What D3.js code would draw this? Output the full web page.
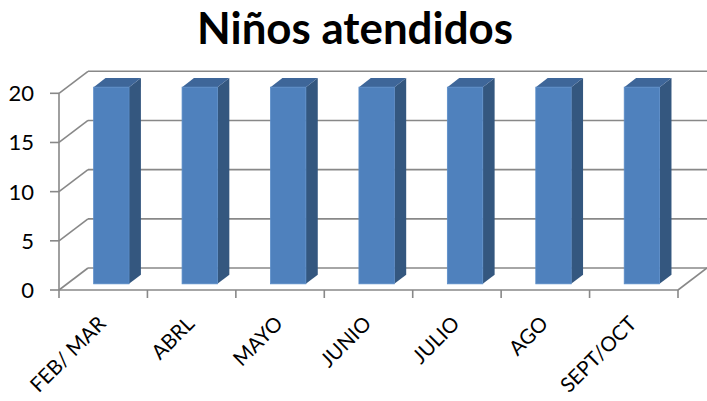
<!DOCTYPE html>
<html>
<head>
<meta charset="utf-8">
<script src="https://cdn.jsdelivr.net/npm/d3@7/dist/d3.min.js"></script>
<style>
  html, body { margin: 0; padding: 0; background: #ffffff; }
  svg { display: block; }
</style>
</head>
<body>
<script>
// ---- data ----
const categories = ["FEB/ MAR", "ABRL", "MAYO", "JUNIO", "JULIO", "AGO", "SEPT/OCT"];
const values = [20, 20, 20, 20, 20, 20, 20];
const yTicks = [0, 5, 10, 15, 20];
const title = "Niños atendidos";

// ---- layout ----
const W = 707, H = 401;
const svg = d3.select("body").append("svg").attr("width", W).attr("height", H);

const x = d3.scaleBand().domain(categories).range([59, 678]);
const y = d3.scaleLinear().domain([0, 20]).range([290, 93.3]);
const DX = 29, DY = -22;              // depth vector of the plot box
const dFront = 0.28, dBack = 0.69;    // bar depth span (fraction)
const barFrac = 0.40;                 // bar width as fraction of band

const grid = "#888888";

// back wall gridlines
svg.append("g").selectAll("line.back").data(yTicks).join("line")
  .attr("x1", 59 + DX).attr("x2", 678 + DX + 2)
  .attr("y1", d => y(d) + DY).attr("y2", d => y(d) + DY)
  .attr("stroke", grid).attr("stroke-width", 1.6);

// side wall diagonals
svg.append("g").selectAll("line.side").data(yTicks).join("line")
  .attr("x1", 59).attr("y1", d => y(d))
  .attr("x2", 59 + DX).attr("y2", d => y(d) + DY)
  .attr("stroke", grid).attr("stroke-width", 1.6);

// floor right diagonal
svg.append("line")
  .attr("x1", 678).attr("y1", y(0)).attr("x2", 678 + DX).attr("y2", y(0) + DY)
  .attr("stroke", grid).attr("stroke-width", 1.6);

// front axes
svg.append("line").attr("x1", 59).attr("x2", 59).attr("y1", y(20)).attr("y2", y(0))
  .attr("stroke", grid).attr("stroke-width", 1.6);
svg.append("line").attr("x1", 59).attr("x2", 678).attr("y1", y(0)).attr("y2", y(0))
  .attr("stroke", grid).attr("stroke-width", 1.6);

// y ticks
svg.append("g").selectAll("line").data(yTicks).join("line")
  .attr("x1", 50).attr("x2", 59).attr("y1", d => y(d)).attr("y2", d => y(d))
  .attr("stroke", grid).attr("stroke-width", 1.6);
svg.append("g").selectAll("text").data(yTicks).join("text")
  .attr("x", 34).attr("y", d => y(d)).attr("dy", "0.36em")
  .attr("text-anchor", "end")
  .attr("font-family", "Lato, 'Open Sans', sans-serif")
  .attr("font-size", 22).attr("fill", "#000")
  .text(d => d);

// x ticks at band boundaries
const xb = categories.map(c => x(c)).concat([x.range()[1]]);
svg.append("g").selectAll("line").data(xb).join("line")
  .attr("x1", d => d).attr("x2", d => d).attr("y1", y(0)).attr("y2", y(0) + 8)
  .attr("stroke", grid).attr("stroke-width", 1.6);

// bars
const bw = x.bandwidth() * barFrac;
const depthLen = dBack - dFront;
const bars = svg.append("g").selectAll("g").data(categories.map((c, i) => ({c, v: values[i]}))).join("g");
bars.each(function(d) {
  const g = d3.select(this);
  const fx = x(d.c) + x.bandwidth() / 2 - bw / 2 + DX * dFront;
  const fy0 = y(0) + DY * dFront;
  const fy1 = y(d.v) + DY * dFront;
  const ox = DX * depthLen, oy = DY * depthLen;
  // side face
  g.append("path")
    .attr("d", `M${fx + bw},${fy1} L${fx + bw + ox},${fy1 + oy} L${fx + bw + ox},${fy0 + oy} L${fx + bw},${fy0} Z`)
    .attr("fill", "#34577f");
  // top face
  g.append("path")
    .attr("d", `M${fx},${fy1} L${fx + ox},${fy1 + oy} L${fx + bw + ox},${fy1 + oy} L${fx + bw},${fy1} Z`)
    .attr("fill", "#3e6699");
  // front face
  g.append("rect")
    .attr("x", fx).attr("y", fy1).attr("width", bw).attr("height", fy0 - fy1)
    .attr("fill", "#4f81bd").attr("stroke", "#5b8dc8").attr("stroke-width", 0.8);
});

// category labels
svg.append("g").selectAll("text").data(categories).join("text")
  .attr("transform", d => `translate(${x(d) + x.bandwidth() / 2 + 4},${325}) rotate(-45)`)
  .attr("text-anchor", "end")
  .attr("font-family", "Lato, 'Open Sans', sans-serif")
  .attr("font-size", 20.5).attr("fill", "#000")
  .text(d => d);

// title, fitted to reference width
const t = svg.append("text")
  .attr("x", 355).attr("y", 44)
  .attr("text-anchor", "middle")
  .attr("font-family", "Lato, 'Open Sans', sans-serif")
  .attr("font-weight", "bold")
  .attr("font-size", 40).attr("fill", "#000")
  .text(title);
const tw = t.node().getComputedTextLength();
t.attr("font-size", 40 * 316 / tw);
</script>
</body>
</html>
